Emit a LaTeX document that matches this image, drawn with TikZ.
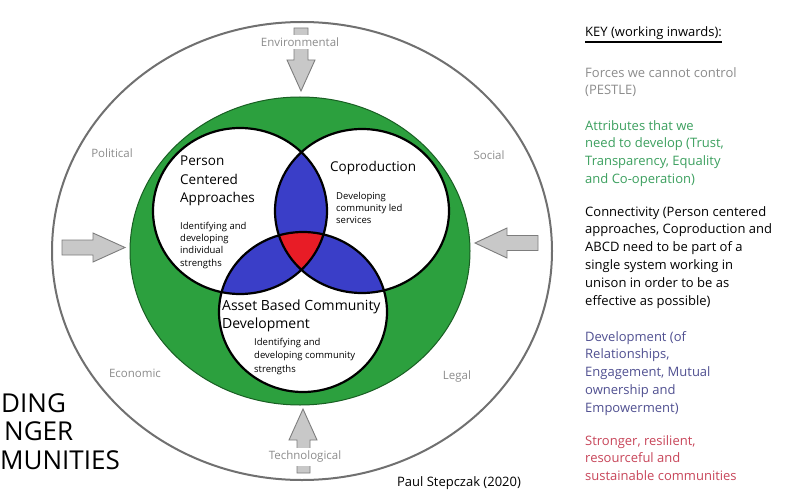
\documentclass[tikz,border=0pt]{standalone}
\usepackage{fontspec}
\setmainfont{Open Sans}
\definecolor{ringgreen}{RGB}{44,160,62}
\definecolor{ringedge}{RGB}{25,95,35}
\definecolor{vennblue}{RGB}{58,62,200}
\definecolor{vennred}{RGB}{232,28,38}
\definecolor{outergray}{RGB}{112,112,112}
\definecolor{arrowfill}{RGB}{200,200,200}
\definecolor{arrowedge}{RGB}{125,125,125}
\definecolor{pestlegray}{RGB}{140,140,140}
\definecolor{keygreen}{RGB}{60,160,95}
\definecolor{keyblue}{RGB}{80,80,145}
\definecolor{keyred}{RGB}{200,70,90}
\begin{document}
\begin{tikzpicture}[x=1pt,y=-1pt,
  pestle/.style={text=pestlegray, font=\fontsize{11.5}{13}\selectfont, inner sep=1pt},
  arrowbox/.style={fill=arrowfill, draw=arrowedge, line width=0.9pt, line join=miter},
  vennline/.style={draw=black, line width=2.2pt},
  venntitle/.style={anchor=north west, align=left, inner sep=0pt, font=\fontsize{13.5}{18.5}\selectfont},
  vennsmall/.style={anchor=north west, align=left, inner sep=0pt, font=\fontsize{9.5}{12.2}\selectfont},
  keytext/.style={anchor=north west, align=left, inner sep=0pt, font=\fontsize{13}{17.8}\selectfont},
  titletext/.style={anchor=west, inner sep=0pt, font=\fontsize{26}{30}\selectfont}]
\useasboundingbox (0,0) rectangle (800,500);
\fill[white] (0,0) rectangle (800,500);

% centres
\coordinate (cO) at (302,251);
\coordinate (cG) at (300,251);
\coordinate (cL) at (240,211);
\coordinate (cR) at (362,211);
\coordinate (cB) at (303,312);

% outer PESTLE circle
\draw[outergray, line width=2pt] (cO) ellipse [x radius=250pt, y radius=229pt];

% green ring
\filldraw[fill=ringgreen, draw=ringedge, line width=1pt] (cG) ellipse [x radius=170pt, y radius=154pt];

% arrows
\filldraw[arrowbox] (62,240) -- (93,240) -- (93,233) -- (125,247.5) -- (93,262) -- (93,255) -- (62,255) -- cycle;
\filldraw[arrowbox] (538,235.5) -- (507,235.5) -- (507,228) -- (475,243) -- (507,258) -- (507,250.5) -- (538,250.5) -- cycle;
\filldraw[arrowbox] (294,28) -- (308,28) -- (308,60) -- (315,60) -- (301,91) -- (287,60) -- (294,60) -- cycle;
\filldraw[arrowbox] (297,473) -- (310,473) -- (310,440) -- (317,440) -- (303,409) -- (289,440) -- (297,440) -- cycle;

% PESTLE labels
\node[pestle, fill=white, inner ysep=3pt] (env) at (300,42) {Environmental};
\node[pestle, fill=white, inner ysep=3pt] (tech) at (305,457) {Technological};
\node[pestle] (pol) at (112,153) {Political};
\node[pestle] (soc) at (489,155) {Social};
\node[pestle] (eco) at (135,373) {Economic};
\node[pestle] (leg) at (457,377) {Legal};

% Venn circles
\fill[white] (cL) ellipse [x radius=87pt, y radius=83pt];
\fill[white] (cR) ellipse [x radius=87pt, y radius=82pt];
\fill[white] (cB) ellipse [x radius=84pt, y radius=80pt];
\begin{scope}
  \clip (cL) ellipse [x radius=87pt, y radius=83pt];
  \fill[vennblue] (cR) ellipse [x radius=87pt, y radius=82pt];
  \fill[vennblue] (cB) ellipse [x radius=84pt, y radius=80pt];
\end{scope}
\begin{scope}
  \clip (cR) ellipse [x radius=87pt, y radius=82pt];
  \fill[vennblue] (cB) ellipse [x radius=84pt, y radius=80pt];
\end{scope}
\begin{scope}
  \clip (cL) ellipse [x radius=87pt, y radius=83pt];
  \clip (cR) ellipse [x radius=87pt, y radius=82pt];
  \fill[vennred] (cB) ellipse [x radius=84pt, y radius=80pt];
\end{scope}
\draw[vennline] (cL) ellipse [x radius=87pt, y radius=83pt];
\draw[vennline] (cR) ellipse [x radius=87pt, y radius=82pt];
\draw[vennline] (cB) ellipse [x radius=84pt, y radius=80pt];

% Venn texts
\node[venntitle] (pca) at (180,156) {Person\\Centered\\Approaches};
\node[vennsmall] (pcat) at (180,222) {Identifying and\\developing\\individual\\strengths};
\node[venntitle, anchor=west] (cop) at (330,168) {Coproduction};
\node[vennsmall] (copt) at (336,192) {Developing\\community led\\services};
\node[venntitle, font=\fontsize{14}{18}\selectfont] (abcd) at (222,300) {Asset Based Community\\Development};
\node[vennsmall, font=\fontsize{9.5}{13.5}\selectfont] (abcdt) at (254,338) {Identifying and\\developing community\\strengths};

% title (cropped)
\node[titletext] (t1) at (1,403) {DING};
\node[titletext] (t2) at (4,431) {NGER};
\node[titletext] (t3) at (0,460) {MUNITIES};

% author
\node[inner sep=0pt, font=\fontsize{13}{15}\selectfont] (auth) at (459,483) {Paul Stepczak (2020)};

% key
\node[keytext, anchor=west] (key) at (585,33) {KEY (working inwards):};
\draw[line width=1.6pt] ([yshift=-2.5pt]key.south west) -- ([yshift=-2.5pt]key.south east);
\node[keytext, text=pestlegray] (k1) at (585,67) {Forces we cannot control\\(PESTLE)};
\node[keytext, text=keygreen] (k2) at (585,120) {Attributes that we\\need to develop (Trust,\\Transparency, Equality\\and Co-operation)};
\node[keytext] (k3) at (585,206) {Connectivity (Person centered\\approaches, Coproduction and\\ABCD need to be part of a\\single system working in\\unison in order to be as\\effective as possible)};
\node[keytext, text=keyblue] (k4) at (585,331) {Development (of\\Relationships,\\Engagement, Mutual\\ownership and\\Empowerment)};
\node[keytext, text=keyred] (k5) at (585,435) {Stronger, resilient,\\resourceful and\\sustainable communities};
\end{tikzpicture}
\end{document}
